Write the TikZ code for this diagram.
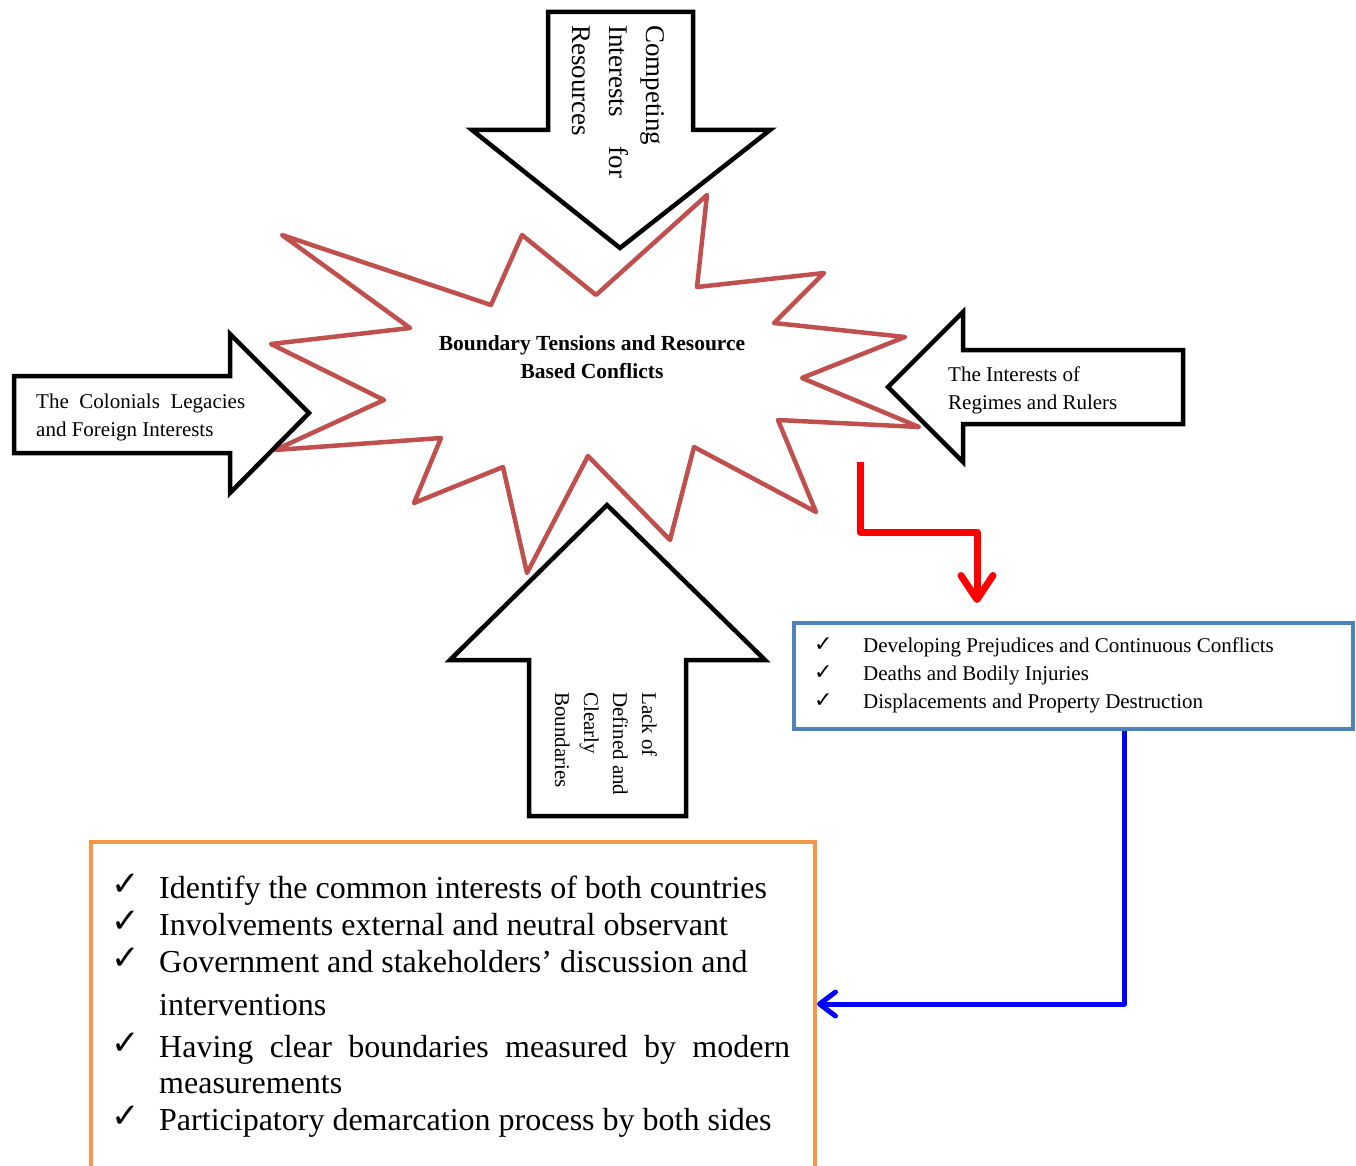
\documentclass[tikz,border=0pt]{standalone}
\usepackage{fontspec}
\setmainfont{Liberation Serif}
\newfontfamily\chkfont{DejaVu Sans}
\usetikzlibrary{arrows.meta,calc}
\definecolor{starred}{HTML}{C0504D}
\definecolor{boxblue}{HTML}{4F81BD}
\definecolor{boxorange}{HTML}{F79646}
\newcommand{\tick}{{\chkfont ✓}}
\begin{document}
\begin{tikzpicture}[x=1pt,y=-1pt,
  blockarrow/.style={draw=black,fill=white,line width=4.5pt,miter limit=10},
  starshape/.style={draw=starred,fill=white,line width=4.5pt,line join=round},
  lbl/.style={inner sep=0pt,anchor=base west},
  vlbl/.style={inner sep=0pt,anchor=base west,rotate=-90},
  armtxt/.style={font=\fontsize{21}{28}\selectfont},
  toptxt/.style={font=\fontsize{27}{37}\selectfont},
  startxt/.style={inner sep=0pt,anchor=base,font=\bfseries\fontsize{21.5}{28}\selectfont},
  listtxt/.style={font=\fontsize{32}{37}\selectfont},
  listchk/.style={font=\fontsize{34}{37}\selectfont},
  smalllist/.style={font=\fontsize{21}{28}\selectfont},
  smallchk/.style={font=\fontsize{22}{28}\selectfont},
  redconn/.style={draw=red,line width=7pt,line join=round,-{Straight Barb[length=24pt,width=32pt,round]}},
  blueconn/.style={draw=blue,line width=5pt,line join=round,-{Straight Barb[length=16pt,width=24pt,round]}}
]
\useasboundingbox (0,0) rectangle (1356,1166);

% central star
\draw[starshape] (282,235) -- (491,305) -- (522,235) -- (596,295) -- (707,195) -- (697,287)
  -- (824,273) -- (774,323) -- (905,337) -- (802,378) -- (919,427) -- (778,420)
  -- (816,512) -- (694,447) -- (670,540) -- (588,456) -- (527,573) -- (503,467)
  -- (414,503) -- (441,438) -- (275,450) -- (384,400) -- (271,344) -- (410,328) -- cycle;
\node[startxt] (st1) at (592,350) {Boundary Tensions and Resource};
\node[startxt] (st2) at (592,378) {Based Conflicts};

% top arrow
\draw[blockarrow] (548,12) -- (693,12) -- (693,130) -- (770,130) -- (620,248) -- (472,130) -- (548,130) -- cycle;
\node[vlbl,toptxt] (t1) at (646,25) {Competing};
\node[vlbl,toptxt] (t2) at (609,25) {\makebox[153pt][s]{Interests for}};
\node[vlbl,toptxt] (t3) at (572,25) {Resources};

% left arrow
\draw[blockarrow] (14,376) -- (230,376) -- (230,334) -- (309,413) -- (230,493) -- (230,453) -- (14,453) -- cycle;
\node[lbl,armtxt] (l1) at (36,408) {\makebox[209pt][s]{The Colonials Legacies}};
\node[lbl,armtxt] (l2) at (36,436) {and Foreign Interests};

% right arrow
\draw[blockarrow] (1183,350) -- (963,350) -- (963,312) -- (888,387) -- (963,462) -- (963,424) -- (1183,424) -- cycle;
\node[lbl,armtxt] (r1) at (948,381) {The Interests of};
\node[lbl,armtxt] (r2) at (948,409) {Regimes and Rulers};

% bottom arrow
\draw[blockarrow] (529,816) -- (686,816) -- (686,660) -- (765,660) -- (607,505) -- (450,660) -- (529,660) -- cycle;
\node[vlbl,armtxt] (b1) at (642,692) {Lack of};
\node[vlbl,armtxt] (b2) at (613,692) {Defined and};
\node[vlbl,armtxt] (b3) at (584,692) {Clearly};
\node[vlbl,armtxt] (b4) at (555,692) {Boundaries};

% effects box
\node[draw=boxblue,line width=4pt,minimum width=559pt,minimum height=106pt,anchor=north west,inner sep=0pt] (effects) at (792,621) {};
\node[lbl,smallchk] (ec1) at (814,651) {\tick};
\node[lbl,smalllist] (e1) at (863,652) {Developing Prejudices and Continuous Conflicts};
\node[lbl,smallchk] (ec2) at (814,679) {\tick};
\node[lbl,smalllist] (e2) at (863,680) {Deaths and Bodily Injuries};
\node[lbl,smallchk] (ec3) at (814,707) {\tick};
\node[lbl,smalllist] (e3) at (863,708) {Displacements and Property Destruction};

% solutions box
\node[draw=boxorange,line width=4pt,minimum width=724pt,minimum height=332pt,anchor=north west,inner sep=0pt] (solutions) at (89,840) {};
\node[lbl,listchk] (sc1) at (111,895) {\tick};
\node[lbl,listtxt] (s1) at (159,898) {Identify the common interests of both countries};
\node[lbl,listchk] (sc2) at (111,932) {\tick};
\node[lbl,listtxt] (s2) at (159,935) {Involvements external and neutral observant};
\node[lbl,listchk] (sc3) at (111,969) {\tick};
\node[lbl,listtxt] (s3) at (159,972) {Government and stakeholders’ discussion and};
\node[lbl,listtxt] (s3b) at (159,1015) {interventions};
\node[lbl,listchk] (sc4) at (111,1054) {\tick};
\node[lbl,listtxt] (s4) at (159,1057) {\makebox[631pt][s]{Having clear boundaries measured by modern}};
\node[lbl,listtxt] (s4b) at (159,1093) {measurements};
\node[lbl,listchk] (sc5) at (111,1127) {\tick};
\node[lbl,listtxt] (s5) at (159,1130) {Participatory demarcation process by both sides};

% connectors
\coordinate (rs) at (860,462);
\coordinate (rc) at (977,532);
\coordinate (re) at (977,603);
\draw[redconn] (rs) |- (rc) -- (re);

\coordinate (bturn) at (1124,1004);
\draw[blueconn] (bturn |- effects.south) -- (bturn) -- (solutions.east |- bturn);
\end{tikzpicture}
\end{document}
